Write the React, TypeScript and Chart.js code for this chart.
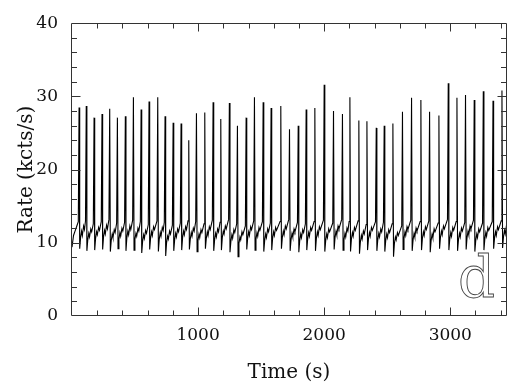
import React, { useEffect, useRef } from "react";
import { Chart, registerables } from "chart.js";

Chart.register(...registerables);

// Burst peak times (s) and peak rates (kcts/s)
const peakTimes = [56, 113, 175, 238, 299, 360, 423, 487, 548, 611, 680, 738, 802, 865, 926, 987, 1053, 1119, 1180, 1248, 1312, 1381, 1447, 1516, 1579, 1656, 1725, 1794, 1857, 1926, 2000, 2074, 2145, 2204, 2275, 2339, 2413, 2476, 2545, 2621, 2693, 2767, 2836, 2910, 2984, 3053, 3121, 3190, 3262, 3339, 3410];
const peakValues = [28.5, 28.7, 27.1, 27.6, 28.3, 27.1, 27.3, 29.9, 28.2, 29.3, 29.9, 27.3, 26.4, 26.3, 24.0, 27.7, 27.8, 29.2, 26.9, 29.1, 26.0, 27.1, 29.9, 29.2, 28.4, 28.7, 25.5, 26.0, 28.2, 28.4, 31.6, 28.0, 27.6, 29.9, 26.7, 26.6, 25.7, 26.0, 26.3, 27.9, 29.8, 29.5, 27.9, 27.4, 31.8, 29.8, 30.2, 29.5, 30.7, 29.4, 30.8];
// Post-burst minimum rate
const troughValues = [9.2, 8.9, 9.0, 9.1, 8.8, 9.2, 8.9, 9.0, 8.6, 9.1, 8.8, 8.2, 8.9, 9.0, 9.1, 8.8, 9.2, 8.9, 9.0, 8.7, 8.1, 9.1, 9.0, 8.8, 9.0, 9.2, 8.9, 8.7, 9.0, 8.9, 8.8, 9.1, 9.0, 8.8, 8.5, 9.0, 8.9, 8.8, 8.1, 9.1, 8.9, 9.0, 8.7, 9.2, 9.0, 8.9, 9.1, 8.8, 9.0, 9.2, 9.3];
// Recovery samples between bursts
const recA = [10.7, 10.4, 10.6, 10.8, 10.3, 10.5, 10.7, 10.5, 10.2, 10.6, 10.5, 10.0, 10.4, 10.7, 10.5, 10.3, 10.6, 10.4, 10.7, 10.2, 9.9, 10.6, 10.5, 10.3, 10.6, 10.7, 10.4, 10.3, 10.5, 10.6, 10.3, 10.7, 10.4, 10.5, 10.1, 10.5, 10.4, 10.3, 9.9, 10.6, 10.4, 10.6, 10.3, 10.7, 10.5, 10.4, 10.7, 10.3, 10.5, 10.6, 10.8];
const recB = [11.6, 11.3, 11.5, 11.7, 11.2, 11.4, 11.6, 11.3, 11.1, 11.5, 11.4, 10.9, 11.3, 11.6, 11.4, 11.2, 11.5, 11.3, 11.6, 11.1, 10.8, 11.5, 11.4, 11.2, 11.5, 11.6, 11.3, 11.2, 11.4, 11.5, 11.2, 11.6, 11.3, 11.4, 11.0, 11.4, 11.3, 11.2, 10.8, 11.5, 11.3, 11.5, 11.2, 11.6, 11.4, 11.3, 11.6, 11.2, 11.4, 11.5, 11.7];
const recC = [11.0, 10.8, 11.1, 11.2, 10.7, 10.9, 11.1, 10.9, 10.6, 11.0, 10.9, 10.5, 10.8, 11.1, 10.9, 10.7, 11.0, 10.8, 11.2, 10.6, 10.4, 11.0, 10.9, 10.7, 11.0, 11.1, 10.8, 10.7, 10.9, 11.0, 10.7, 11.1, 10.8, 10.9, 10.5, 10.9, 10.8, 10.7, 10.4, 11.0, 10.8, 11.0, 10.7, 11.1, 10.9, 10.8, 11.1, 10.7, 10.9, 11.0, 11.2];
const recD = [12.3, 11.9, 12.1, 12.4, 11.8, 12.0, 12.3, 12.0, 11.7, 12.2, 12.1, 11.6, 11.9, 12.2, 12.0, 11.8, 12.2, 11.9, 12.3, 11.8, 11.5, 12.2, 12.1, 11.9, 12.1, 12.3, 11.9, 11.8, 12.1, 12.2, 11.9, 12.3, 12.0, 12.1, 11.6, 12.1, 11.9, 11.8, 11.4, 12.2, 12.0, 12.2, 11.9, 12.3, 12.1, 12.0, 12.3, 11.9, 12.1, 12.2, 12.4];
const recE = [11.8, 11.5, 11.7, 11.9, 11.4, 11.6, 11.8, 11.6, 11.3, 11.8, 11.7, 11.2, 11.5, 11.8, 11.6, 11.4, 11.8, 11.5, 11.9, 11.4, 11.1, 11.8, 11.7, 11.5, 11.7, 11.9, 11.5, 11.4, 11.7, 11.8, 11.5, 11.9, 11.6, 11.7, 11.2, 11.7, 11.5, 11.4, 11.0, 11.8, 11.6, 11.8, 11.5, 11.9, 11.7, 11.6, 11.9, 11.5, 11.7, 11.8];
const preValues = [13.0, 12.6, 12.9, 13.2, 12.7, 12.8, 13.1, 12.9, 12.5, 13.0, 12.8, 12.4, 12.7, 13.0, 12.9, 12.6, 13.1, 12.8, 13.2, 12.6, 12.3, 13.0, 12.9, 12.7, 12.9, 13.2, 12.8, 12.6, 12.9, 13.1, 12.7, 13.2, 12.9, 13.0, 12.5, 12.9, 12.8, 12.6, 12.3, 13.1, 12.9, 13.0, 12.7, 13.2, 12.9, 12.8, 13.1, 12.7, 12.9, 13.0];
// Lead-in before first burst
const leadTimes = [0, 12, 24, 36, 50];
const leadValues = [9.4, 11.0, 11.6, 12.2, 12.9];

const xTickValues = [1000, 2000, 3000];
const yTickValues = [0, 10, 20, 30, 40];

function buildPoints() {
  const pts: { x: number; y: number }[] = [];
  leadTimes.forEach((t, i) => pts.push({ x: t, y: leadValues[i] }));
  peakTimes.forEach((tp, i) => {
    const next = i + 1 < peakTimes.length ? peakTimes[i + 1] : null;
    pts.push({ x: tp, y: peakValues[i] });
    pts.push({ x: tp + 5, y: troughValues[i] });
    pts.push({ x: tp + 12, y: recA[i] });
    pts.push({ x: tp + 20, y: recB[i] });
    pts.push({ x: tp + 26, y: recC[i] });
    pts.push({ x: tp + 36, y: recD[i] });
    if (next !== null) {
      pts.push({ x: tp + 43, y: recE[i] });
      pts.push({ x: next - 6, y: preValues[i] });
    }
  });
  return pts;
}

const frameTicks = {
  id: "frameTicks",
  afterDraw(chart: any) {
    const { ctx, chartArea } = chart;
    const xs = chart.scales.x;
    const ys = chart.scales.y;
    const L = Math.round(chartArea.left) + 0.5;
    const R = Math.round(chartArea.right) - 0.5;
    const T = Math.round(chartArea.top) + 0.5;
    const B = Math.round(chartArea.bottom) - 0.5;
    ctx.save();
    ctx.strokeStyle = "#333";
    ctx.lineWidth = 1;
    ctx.beginPath();
    ctx.rect(L, T, R - L, B - T);
    ctx.stroke();
    ctx.beginPath();
    for (let v = 200; v <= xs.max; v += 200) {
      const px = Math.round(xs.getPixelForValue(v)) + 0.5;
      const len = v % 1000 === 0 ? 8 : 5;
      ctx.moveTo(px, B);
      ctx.lineTo(px, B - len);
      ctx.moveTo(px, T);
      ctx.lineTo(px, T + len);
    }
    for (let v = 2; v < 40; v += 2) {
      const py = Math.round(ys.getPixelForValue(v)) + 0.5;
      const len = v % 10 === 0 ? 9 : 5.5;
      ctx.moveTo(L, py);
      ctx.lineTo(L + len, py);
      ctx.moveTo(R, py);
      ctx.lineTo(R - len, py);
    }
    ctx.stroke();
    ctx.font = '58px "DejaVu Serif"';
    ctx.strokeStyle = "#444";
    ctx.lineWidth = 0.9;
    ctx.strokeText("d", 458, 297);
    ctx.restore();
  },
};

export default function App() {
  const ref = useRef<HTMLCanvasElement | null>(null);
  useEffect(() => {
    document.body.style.margin = "0";
    const canvas = ref.current;
    if (!canvas) return;
    const chart = new Chart(canvas, {
      type: "line",
      data: {
        datasets: [
          {
            data: buildPoints(),
            borderColor: "#000",
            borderWidth: 1.1,
            pointRadius: 0,
            tension: 0,
            fill: false,
          },
        ],
      },
      options: {
        animation: false,
        responsive: false,
        parsing: false,
        layout: { padding: { top: 22, right: 9, left: 0, bottom: 0 } },
        plugins: { legend: { display: false }, tooltip: { enabled: false } },
        scales: {
          x: {
            type: "linear",
            min: -8,
            max: 3450,
            afterBuildTicks: (s: any) => {
              s.ticks = xTickValues.map((v) => ({ value: v }));
            },
            afterFit: (s: any) => {
              s.height = 75;
            },
            grid: { display: false, drawTicks: false },
            border: { display: false },
            ticks: {
              padding: 9,
              maxRotation: 0,
              autoSkip: false,
              color: "#111",
              font: { family: "DejaVu Serif", size: 17 },
              callback: (v: any) => String(v),
            },
            title: {
              display: true,
              text: "Time (s)",
              color: "#111",
              font: { family: "DejaVu Serif", size: 20 },
              padding: { top: 0, bottom: 6 },
            },
          },
          y: {
            type: "linear",
            min: 0,
            max: 40,
            afterBuildTicks: (s: any) => {
              s.ticks = yTickValues.map((v) => ({ value: v }));
            },
            afterFit: (s: any) => {
              s.width = 71;
            },
            grid: { display: false, drawTicks: false },
            border: { display: false },
            ticks: {
              padding: 13,
              autoSkip: false,
              color: "#111",
              font: { family: "DejaVu Serif", size: 17 },
              callback: (v: any) => String(v),
            },
            title: {
              display: true,
              text: "Rate (kcts/s)",
              color: "#111",
              font: { family: "DejaVu Serif", size: 20 },
              padding: { top: 15, bottom: 0 },
            },
          },
        },
      },
      plugins: [frameTicks],
    });
    return () => chart.destroy();
  }, []);
  return (
    <div style={{ width: 516, height: 391 }}>
      <canvas ref={ref} width={516} height={391} />
    </div>
  );
}
